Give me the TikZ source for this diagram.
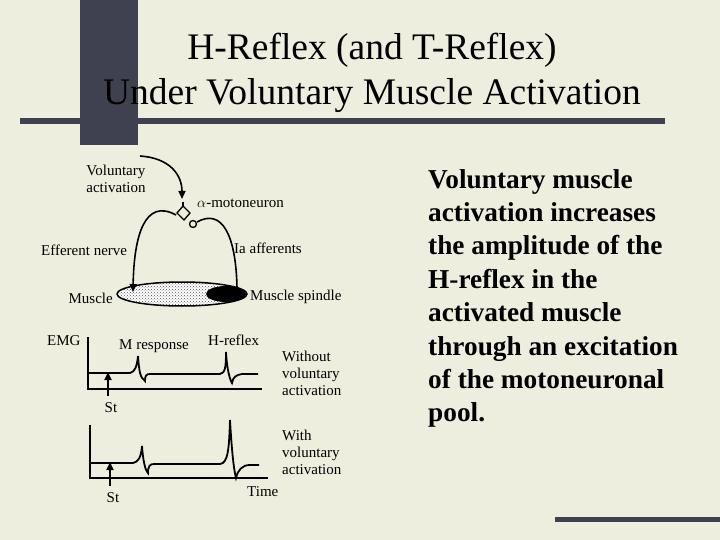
\documentclass[tikz,border=0pt]{standalone}
\usepackage{fontspec}
\setmainfont{Liberation Serif}
\usetikzlibrary{arrows.meta,patterns}
\definecolor{bg}{HTML}{EEEEDF}
\definecolor{bar}{HTML}{404150}
\begin{document}
\begin{tikzpicture}[x=1pt,y=-1pt,
  lbl/.style={font=\fontsize{15}{17}\selectfont,inner sep=0pt},
  bul/.style={font=\fontsize{27.3}{33.4}\selectfont\bfseries,align=left,anchor=north west,inner sep=0pt},
  ttl/.style={font=\fontsize{37.5}{45}\selectfont,align=center,inner sep=0pt},
  wire/.style={line width=1.6pt},
  trace/.style={line width=1.8pt},
  arr/.style={-{Triangle[length=8pt,width=7pt]}}]
\fill[bg] (0,0) rectangle (720,540);
\fill[bar] (80,0) rectangle (138,145);
\fill[bar] (20,118) rectangle (665,124);
\fill[bar] (555,517) rectangle (720,522);
\node[ttl] (title) at (372,73) {H-Reflex (and T-Reflex)\\Under Voluntary Muscle Activation};
\node[bul] (txt) at (428,169) {Voluntary muscle\\activation increases\\the amplitude of the\\H-reflex in the\\activated muscle\\through an excitation\\of the motoneuronal\\pool.};
% neural diagram
\node[lbl,align=left] (va) at (116,179) {Voluntary\\activation};
\node[lbl,anchor=west] (amn) at (197,203) {$\alpha$-motoneuron};
\node[lbl,anchor=west] (ef) at (41,250) {Efferent nerve};
\node[lbl,anchor=west] (ia) at (234,248) {Ia afferents};
\node[lbl,anchor=east] (mu) at (113,298) {Muscle};
\node[lbl,anchor=west] (ms) at (250,297) {Muscle spindle};
\coordinate (src) at (140,156);
\draw[wire,arr] (src) .. controls (170,158) and (182,175) .. (182,199);
\draw[wire] (183,202) -- (183,206);
\draw[line width=1.3pt] (183,206) -- (177,213) -- (184,220) -- (190,213) -- cycle;
\draw[line width=1.3pt] (193,224) circle (3.5);
\fill[white] (182,294) ellipse (65 and 12);
\fill[pattern=crosshatch dots,pattern color=gray!70!black] (182,294) ellipse (65 and 12);
\draw[line width=1.5pt] (182,294) ellipse (65 and 12);
\fill (226,294) ellipse (20 and 8);
\draw[wire,arr] (176,215) .. controls (145,198) and (134,235) .. (133,292);
\draw[wire] (197,222) .. controls (222,208) and (236,235) .. (237,288);
% EMG traces
\node[lbl,anchor=west] (emg) at (47,341) {EMG};
\node[lbl,anchor=west] (mr) at (119,346) {M response};
\node[lbl,anchor=west] (hr) at (208,340) {H-reflex};
\node[lbl,align=left,anchor=west] (wo) at (282,373) {Without\\voluntary\\activation};
\node[lbl,align=left,anchor=west] (wi) at (282,452) {With\\voluntary\\activation};
\node[lbl,anchor=west] (tm) at (247,492) {Time};
\node[lbl] (st1) at (111,408) {St};
\node[lbl] (st2) at (113,498) {St};
\draw[trace] (88,337) -- (88,389) -- (262,389);
\draw[trace] (88,373) -- (130,373) .. controls (135,372) and (137,366) .. (138,356) .. controls (139,370) and (140,378) .. (145,381)
  .. controls (145,376) and (146,374) .. (150,374) -- (220,374) .. controls (225,373) and (226,368) .. (226,352)
  .. controls (227,370) and (230,380) .. (232,383) .. controls (233,377) and (236,375) .. (242,374) -- (258,374);
\draw[trace,arr] (108,396) -- (108,372);
\draw[trace] (90,425) -- (90,478) -- (268,478);
\draw[trace] (90,463) -- (133,463) .. controls (138,462) and (141,458) .. (142,446) .. controls (143,460) and (145,470) .. (148,473)
  .. controls (148,466) and (150,464) .. (154,464) -- (220,464) .. controls (228,463) and (229,450) .. (230,420)
  .. controls (232,455) and (234,470) .. (236,478) .. controls (238,470) and (242,465) .. (250,465) -- (259,465);
\draw[trace,arr] (110,486) -- (110,462);
\end{tikzpicture}
\end{document}
